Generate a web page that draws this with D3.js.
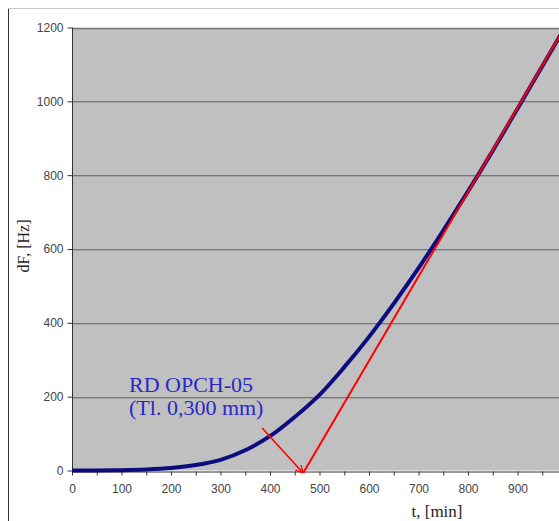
<!DOCTYPE html>
<html>
<meta charset="utf-8">
<title>dF vs t</title>
<style>
body { margin: 0; background: #fff; }
.tick text { font-family: "Liberation Sans", Arial, sans-serif; font-size: 12px; fill: #444; }
.axis path, .axis line { stroke: #333; }
</style>
<svg></svg>
<script src="https://d3js.org/d3.v7.min.js"></script>
<script>

// measured curve, t [min] -> dF [Hz]
var tVals  = [0, 50, 100, 150, 200, 250, 300, 350, 400, 450, 500, 550, 600, 650, 700, 750, 800, 850, 900, 950, 1000];
var dfVals = [0, 0, 1, 3, 7, 15, 29, 55, 93, 145, 205, 280, 362, 452, 548, 650, 756, 866, 980, 1095, 1210];

// tangent line and arrow (data coordinates)
var tangentT  = [467.4, 1000];
var tangentDF = [-6, 1211];
var arrowT  = [384, 466.5];
var arrowDF = [115, -6];

var yTicks = [0, 200, 400, 600, 800, 1000, 1200];
var xTicks = [0, 100, 200, 300, 400, 500, 600, 700, 800, 900];
var xMinor = d3.range(0, 1001, 50);

var label1 = "RD OPCH-05";
var label2 = "(Tl. 0,300 mm)";

var W = 559, H = 521;
var svg = d3.select("svg").attr("width", W).attr("height", H);

var margin = {left: 72, top: 27.5, right: -8, bottom: 50.5};
var x = d3.scaleLinear().domain([0, 1000]).range([margin.left, W - margin.right]);
var y = d3.scaleLinear().domain([0, 1200]).range([H - margin.bottom, margin.top]);

// outer frame
svg.append("line").attr("x1", 8.5).attr("x2", 8.5).attr("y1", 8).attr("y2", H).attr("stroke", "#333");
svg.append("line").attr("x1", 8).attr("x2", W).attr("y1", 8.5).attr("y2", 8.5).attr("stroke", "#c8c8c8");

// plot area
svg.append("rect")
    .attr("x", x(0)).attr("y", y(1200))
    .attr("width", x(1000) - x(0)).attr("height", y(0) - y(1200))
    .attr("fill", "#c0c0c0");

// gridlines
var grid = svg.append("g");
grid.selectAll("line.dark").data(yTicks.slice(1)).enter().append("line")
    .attr("x1", x(0)).attr("x2", x(1000))
    .attr("y1", function(d) { return Math.round(y(d)) + 0.5; })
    .attr("y2", function(d) { return Math.round(y(d)) + 0.5; })
    .attr("stroke", "#767676");
grid.selectAll("line.light").data(yTicks.slice(1)).enter().append("line")
    .attr("x1", x(0)).attr("x2", x(1000))
    .attr("y1", function(d) { return Math.round(y(d)) + 1.5; })
    .attr("y2", function(d) { return Math.round(y(d)) + 1.5; })
    .attr("stroke", "#a6a6a6");

// axes
svg.append("g").attr("class", "axis")
    .attr("transform", "translate(" + (Math.round(x(0)) + 0.5) + ",0)")
    .call(d3.axisLeft(y).tickValues(yTicks).tickFormat(d3.format("d"))
        .tickSize(5).tickPadding(4).tickSizeOuter(0))
    .call(function(g) { g.select(".domain").remove(); });
svg.append("line")
    .attr("x1", Math.round(x(0)) + 0.5).attr("x2", Math.round(x(0)) + 0.5)
    .attr("y1", y(1200)).attr("y2", y(0)).attr("stroke", "#333");

var xAxis = svg.append("g").attr("class", "axis")
    .attr("transform", "translate(0," + (Math.round(y(0)) + 0.5) + ")");
xAxis.call(d3.axisBottom(x).tickValues(xMinor).tickSize(4).tickFormat("").tickSizeOuter(0));
xAxis.append("g")
    .call(d3.axisBottom(x).tickValues(xTicks).tickFormat(d3.format("d")).tickSize(0).tickPadding(13))
    .call(function(g) { g.select(".domain").remove(); });

// measured curve
var data = tVals.map(function(t, i) { return {t: t, v: dfVals[i]}; });
svg.append("path")
    .datum(data)
    .attr("fill", "none")
    .attr("stroke", "#0c0c80")
    .attr("stroke-width", 4)
    .attr("stroke-linejoin", "round")
    .attr("d", d3.line()
        .x(function(d) { return x(d.t); })
        .y(function(d) { return y(d.v); })
        .curve(d3.curveCatmullRom));

// tangent
svg.append("line")
    .attr("x1", x(tangentT[0])).attr("y1", y(tangentDF[0]))
    .attr("x2", x(tangentT[1])).attr("y2", y(tangentDF[1]))
    .attr("stroke", "#ff0000").attr("stroke-width", 2);

// arrow
svg.append("defs").append("marker")
    .attr("id", "arr").attr("viewBox", "0 0 10 10")
    .attr("refX", 9).attr("refY", 5)
    .attr("markerWidth", 8).attr("markerHeight", 8)
    .attr("markerUnits", "userSpaceOnUse")
    .attr("orient", "auto")
  .append("path")
    .attr("d", "M0,0 L9,5 L0,10")
    .attr("fill", "none").attr("stroke", "#ff0000").attr("stroke-width", 1.6);
svg.append("line")
    .attr("x1", x(arrowT[0])).attr("y1", y(arrowDF[0]))
    .attr("x2", x(arrowT[1])).attr("y2", y(arrowDF[1]))
    .attr("stroke", "#ff0000").attr("stroke-width", 1.6)
    .attr("marker-end", "url(#arr)");

// annotation
var ann = svg.append("text")
    .attr("font-family", "'Liberation Serif', 'Times New Roman', serif")
    .attr("font-size", 22).attr("fill", "#2828c8");
ann.append("tspan").attr("x", 129).attr("y", 392).text(label1);
ann.append("tspan").attr("x", 129).attr("y", 415).text(label2);

// axis titles
svg.append("text")
    .attr("transform", "translate(29,246) rotate(-90)")
    .attr("text-anchor", "middle")
    .attr("font-family", "'Liberation Serif', 'Times New Roman', serif")
    .attr("font-size", 16).attr("fill", "#222")
    .text("dF, [Hz]");
svg.append("text")
    .attr("x", 437).attr("y", 517)
    .attr("text-anchor", "middle")
    .attr("font-family", "'Liberation Serif', 'Times New Roman', serif")
    .attr("font-size", 17).attr("fill", "#222")
    .text("t, [min]");

</script>
</html>
